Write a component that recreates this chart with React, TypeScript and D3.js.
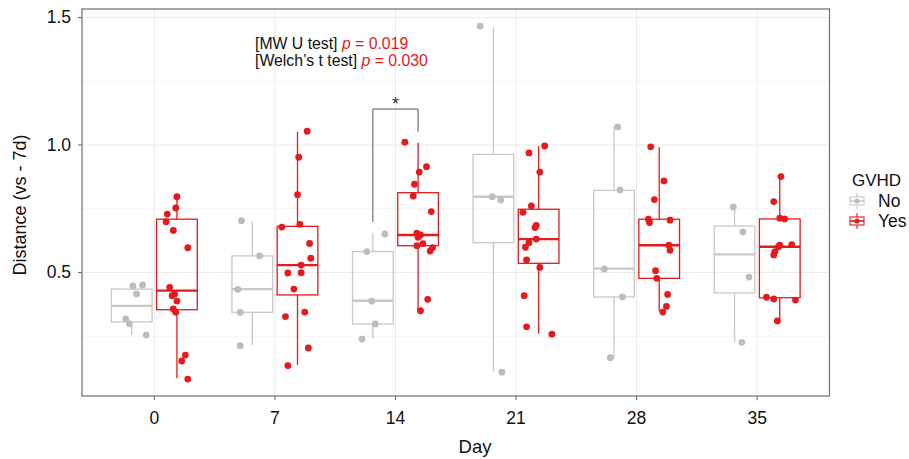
import React, { useEffect, useRef } from "react";
import * as d3 from "d3";

const days = ["0", "7", "14", "21", "28", "35"];
const groups = ["No", "Yes"];
const boxColors = ["#c8c8c8", "#e41a1c"];
const dotColors = ["#bdbdbd", "#e41a1c"];

// box stats per day: [lower whisker, q1, median, q3, upper whisker]
const boxNo = [
  [0.255, 0.306, 0.369, 0.435, 0.435],
  [0.216, 0.344, 0.435, 0.565, 0.699],
  [0.242, 0.298, 0.389, 0.582, 0.655],
  [0.111, 0.617, 0.797, 0.963, 1.462],
  [0.166, 0.404, 0.515, 0.822, 1.072],
  [0.227, 0.42, 0.571, 0.682, 0.756],
];
const boxYes = [
  [0.085, 0.354, 0.429, 0.709, 0.8],
  [0.137, 0.412, 0.529, 0.681, 1.052],
  [0.35, 0.605, 0.647, 0.813, 1.009],
  [0.26, 0.536, 0.631, 0.748, 0.996],
  [0.348, 0.477, 0.607, 0.709, 0.991],
  [0.31, 0.401, 0.601, 0.71, 0.875],
];

// observed distances per day
const ptsNo = [
  [0.447, 0.451, 0.416, 0.318, 0.299, 0.255],
  [0.703, 0.565, 0.434, 0.344, 0.213],
  [0.651, 0.582, 0.388, 0.298, 0.239],
  [1.466, 0.797, 0.784, 0.109],
  [1.071, 0.824, 0.514, 0.404, 0.166],
  [0.757, 0.659, 0.482, 0.226],
];
const ptsYes = [
  [0.797, 0.729, 0.753, 0.699, 0.665, 0.597, 0.442, 0.409, 0.415, 0.388, 0.357, 0.344, 0.176, 0.153, 0.082],
  [1.054, 0.952, 0.805, 0.689, 0.678, 0.614, 0.556, 0.529, 0.498, 0.499, 0.435, 0.327, 0.345, 0.204, 0.135],
  [1.011, 0.915, 0.894, 0.846, 0.8, 0.739, 0.654, 0.647, 0.638, 0.605, 0.613, 0.597, 0.584, 0.395, 0.35],
  [0.996, 0.969, 0.894, 0.761, 0.736, 0.685, 0.676, 0.631, 0.617, 0.599, 0.549, 0.52, 0.409, 0.287, 0.258],
  [0.993, 0.859, 0.786, 0.709, 0.696, 0.705, 0.607, 0.587, 0.507, 0.477, 0.414, 0.367, 0.345],
  [0.876, 0.778, 0.713, 0.71, 0.607, 0.601, 0.609, 0.582, 0.569, 0.403, 0.396, 0.392, 0.31],
];
// horizontal jitter (in day-step units)
const jitNo = [
  [0.01, 0.09, 0.04, -0.05, -0.02, 0.12],
  [-0.09, 0.06, -0.12, -0.1, -0.1],
  [0.1, -0.05, -0.01, 0.02, -0.09],
  [-0.11, -0.01, 0.06, 0.07],
  [0.03, 0.05, -0.08, 0.07, -0.03],
  [-0.01, 0.07, 0.12, 0.06],
];
const jitYes = [
  [0.0, -0.08, -0.01, -0.09, -0.03, 0.09, -0.06, -0.04, -0.02, 0.0, -0.03, -0.01, 0.07, 0.04, 0.09],
  [0.08, 0.01, 0.0, 0.02, -0.13, 0.1, 0.11, 0.03, -0.08, 0.03, -0.03, -0.1, 0.06, 0.09, -0.08],
  [-0.11, 0.07, 0.01, -0.03, -0.04, 0.11, -0.01, 0.02, 0.0, -0.01, 0.04, 0.12, 0.1, 0.08, 0.02],
  [0.05, -0.08, 0.01, -0.06, -0.13, -0.02, -0.03, -0.02, -0.08, -0.11, -0.1, 0.01, -0.12, -0.1, 0.11],
  [-0.07, 0.04, -0.04, -0.09, -0.08, 0.09, 0.08, 0.09, -0.03, -0.02, 0.07, 0.06, 0.03],
  [0.01, -0.05, 0.0, 0.04, 0.0, -0.01, 0.1, -0.04, -0.05, -0.11, -0.05, 0.13, -0.02],
];

const yTicks = [0.5, 1.0, 1.5];
const yMinor = [0.25, 0.75, 1.25];
// significance bracket on day 14: [left leg end, top, right leg end]
const bracketDay = "14";
const bracketY = [0.698, 1.141, 1.052];

const FONT = "'Liberation Sans', Arial, Helvetica, sans-serif";

function drawChart(el: SVGSVGElement) {
  const W = 909;
  const H = 459;
  const svg = d3.select(el);
  svg.selectAll("*").remove();
  svg.attr("width", W).attr("height", H).style("font-family", FONT);

  const left = 82, right = 829.5, top = 9, bottom = 396;

  const x = d3.scalePoint<string>().domain(days).range([left, right]).padding(0.6);
  const step = x.step();
  const y = d3.scaleLinear().domain([0.0157, 1.5333]).range([bottom, top]);
  const dodge = 0.1875 * step;
  const bw = 0.3375 * step;

  svg.append("rect").attr("width", W).attr("height", H).attr("fill", "white");

  // grid
  const grid = svg.append("g");
  grid.selectAll(".minor").data(yMinor).join("line")
    .attr("x1", left).attr("x2", right)
    .attr("y1", d => y(d)).attr("y2", d => y(d))
    .attr("stroke", "#f3f3f3").attr("stroke-width", 0.8);
  grid.selectAll(".major").data(yTicks).join("line")
    .attr("x1", left).attr("x2", right)
    .attr("y1", d => y(d)).attr("y2", d => y(d))
    .attr("stroke", "#ebebeb").attr("stroke-width", 1);
  grid.selectAll(".vmajor").data(days).join("line")
    .attr("x1", d => x(d)!).attr("x2", d => x(d)!)
    .attr("y1", top).attr("y2", bottom)
    .attr("stroke", "#ebebeb").attr("stroke-width", 1);

  // boxes
  const boxData = [boxNo, boxYes];
  const plot = svg.append("g");
  boxData.forEach((stats, gi) => {
    const off = gi === 0 ? -dodge : dodge;
    stats.forEach((s, di) => {
      const cx = x(days[di])! + off;
      const [lo, q1, med, q3, hi] = s;
      const g = plot.append("g").attr("stroke", boxColors[gi]).attr("fill", "none");
      g.append("line").attr("x1", cx).attr("x2", cx).attr("y1", y(q3)).attr("y2", y(hi)).attr("stroke-width", 1.3);
      g.append("line").attr("x1", cx).attr("x2", cx).attr("y1", y(q1)).attr("y2", y(lo)).attr("stroke-width", 1.3);
      g.append("rect")
        .attr("x", cx - bw / 2).attr("width", bw)
        .attr("y", y(q3)).attr("height", y(q1) - y(q3))
        .attr("stroke-width", 1.3);
      g.append("line").attr("x1", cx - bw / 2).attr("x2", cx + bw / 2)
        .attr("y1", y(med)).attr("y2", y(med)).attr("stroke-width", 2.4);
    });
  });

  // jittered points
  const ptsData = [ptsNo, ptsYes];
  const jitData = [jitNo, jitYes];
  ptsData.forEach((byDay, gi) => {
    const off = gi === 0 ? -dodge : dodge;
    byDay.forEach((vals, di) => {
      plot.append("g").selectAll("circle").data(vals).join("circle")
        .attr("cx", (d, i) => x(days[di])! + off + jitData[gi][di][i] * step)
        .attr("cy", d => y(d))
        .attr("r", 3.4)
        .attr("fill", dotColors[gi]);
    });
  });

  // bracket
  const bx0 = x(bracketDay)! - dodge;
  const bx1 = x(bracketDay)! + dodge;
  svg.append("path")
    .attr("d", `M${bx0},${y(bracketY[0])}V${y(bracketY[1])}H${bx1}V${y(bracketY[2])}`)
    .attr("fill", "none").attr("stroke", "#555").attr("stroke-width", 1);
  svg.append("text")
    .attr("x", x(bracketDay)!).attr("y", y(bracketY[1]) + 1)
    .attr("text-anchor", "middle").attr("font-size", 18).attr("fill", "#333")
    .text("*");

  // annotation
  const notes = [["[MW U test] ", "0.019"], ["[Welch\u2019s t test] ", "0.030"]];
  notes.forEach((n, i) => {
    const t = svg.append("text").attr("x", 255).attr("y", 48.5 + i * 17).attr("font-size", 15.8);
    t.append("tspan").attr("fill", "#111").text(n[0]);
    t.append("tspan").attr("fill", "#e41a1c").attr("font-style", "italic").text("p");
    t.append("tspan").attr("fill", "#e41a1c").text(" = " + n[1]);
  });

  // panel border
  svg.append("rect")
    .attr("x", left).attr("y", top).attr("width", right - left).attr("height", bottom - top)
    .attr("fill", "none").attr("stroke", "#6e6e6e").attr("stroke-width", 1.2);

  // y axis
  const yAxis = svg.append("g");
  yTicks.forEach(t => {
    yAxis.append("line").attr("x1", left - 4).attr("x2", left)
      .attr("y1", y(t)).attr("y2", y(t)).attr("stroke", "#6e6e6e").attr("stroke-width", 1.1);
    yAxis.append("text").attr("x", left - 11).attr("y", y(t) + 6)
      .attr("text-anchor", "end").attr("font-size", 17.5).attr("fill", "#111")
      .text(d3.format(".1f")(t));
  });
  // x axis
  const xAxis = svg.append("g");
  days.forEach(d => {
    xAxis.append("line").attr("x1", x(d)!).attr("x2", x(d)!)
      .attr("y1", bottom).attr("y2", bottom + 4).attr("stroke", "#6e6e6e").attr("stroke-width", 1.1);
    xAxis.append("text").attr("x", x(d)!).attr("y", bottom + 27.5)
      .attr("text-anchor", "middle").attr("font-size", 17.5).attr("fill", "#111")
      .text(d);
  });

  svg.append("text").attr("x", 475).attr("y", 453)
    .attr("text-anchor", "middle").attr("font-size", 18.5).attr("fill", "#111").text("Day");
  svg.append("text")
    .attr("transform", `translate(26,205) rotate(-90)`)
    .attr("text-anchor", "middle").attr("font-size", 18).attr("fill", "#111")
    .text("Distance (vs - 7d)");

  // legend
  const leg = svg.append("g");
  leg.append("text").attr("x", 852).attr("y", 186).attr("font-size", 17).attr("fill", "#111").text("GVHD");
  const keyY = [201, 221];
  groups.forEach((gname, gi) => {
    const cy = keyY[gi];
    const cx = 857;
    const k = leg.append("g").attr("stroke", boxColors[gi]).attr("fill", "none").attr("stroke-width", 1.1);
    k.append("line").attr("x1", cx).attr("x2", cx).attr("y1", cy - 8).attr("y2", cy + 8);
    k.append("rect").attr("x", cx - 7).attr("y", cy - 4).attr("width", 14).attr("height", 8).attr("fill", "white");
    k.append("line").attr("x1", cx - 7).attr("x2", cx + 7).attr("y1", cy).attr("y2", cy).attr("stroke-width", 1.6);
    leg.append("circle").attr("cx", cx).attr("cy", cy).attr("r", 2.6).attr("fill", dotColors[gi]);
    leg.append("text").attr("x", 878).attr("y", cy + 6).attr("font-size", 17.5).attr("fill", "#111").text(gname);
  });
}

const App = () => {
  const svgRef = useRef<SVGSVGElement>(null);
  useEffect(() => {
    document.body.style.margin = "0";
    if (svgRef.current) drawChart(svgRef.current);
  }, []);
  return (
    <div>
      <svg ref={svgRef} style={{ display: "block" }} />
    </div>
  );
};

export default App;
